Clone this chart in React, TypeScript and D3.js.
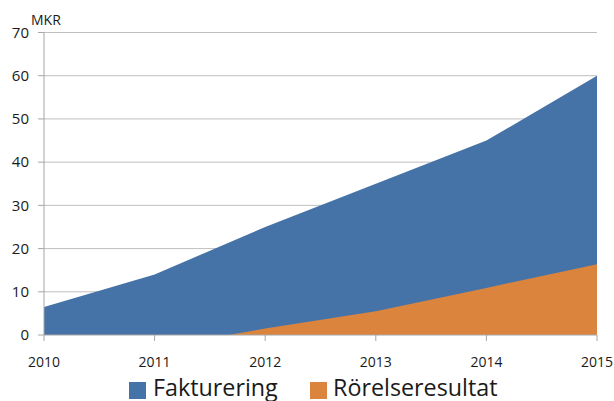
import React from 'react'
import * as d3 from 'd3'

const years = [2010, 2011, 2012, 2013, 2014, 2015]
const fakturering = [6.5, 14, 25, 35, 45, 60]
const rorelseresultat = [-1.5, -3, 1.5, 5.5, 10.9, 16.4]
const yTicks = [0, 10, 20, 30, 40, 50, 60, 70]
const seriesNames = ['Fakturering', 'Rörelseresultat']
const colors = ['#4673a7', '#db843d']

export default function App() {
    const width = 614
    const height = 401
    const left = 44, right = 597, top = 32.5, bottom = 335

    const x = d3.scaleLinear().domain([2010, 2015]).range([left, right])
    const y = d3.scaleLinear().domain([0, 70]).range([bottom, top])

    const area = d3.area<number>()
        .x((d, i) => x(years[i]))
        .y0(y(0))
        .y1(d => y(d))

    const font = "'Open Sans', 'Noto Sans', sans-serif"

    return (
        <svg width={width} height={height}
             style={{position: 'absolute', left: 0, top: 0, background: '#fff'}}
             fontFamily={font}>
            <defs>
                <clipPath id="plot">
                    <rect x={left} y={top} width={right - left} height={bottom - top} />
                </clipPath>
            </defs>
            {/* gridlines */}
            {yTicks.map(t => (
                <g key={t}>
                    {t > 0 && <line x1={left} x2={right} y1={y(t)} y2={y(t)} stroke="#bfbfbf" strokeWidth={1} />}
                    <line x1={left - 6} x2={left} y1={y(t)} y2={y(t)} stroke="#a6a6a6" strokeWidth={1} />
                    <text x={29} y={y(t)} dy="0.35em" textAnchor="end" fontSize={15} fill="#1a1a1a">{t}</text>
                </g>
            ))}
            <g clipPath="url(#plot)">
                <path d={area(fakturering) || ''} fill={colors[0]} />
                <path d={area(rorelseresultat) || ''} fill={colors[1]} />
            </g>
            {/* axes */}
            <line x1={left} x2={left} y1={top} y2={bottom} stroke="#a6a6a6" />
            <line x1={left} x2={right} y1={bottom} y2={bottom} stroke="#a6a6a6" />
            {years.map(yr => (
                <g key={yr}>
                    <line x1={x(yr)} x2={x(yr)} y1={bottom} y2={bottom + 6} stroke="#a6a6a6" />
                    <text x={x(yr)} y={367} textAnchor="middle" fontSize={14} fill="#1a1a1a">{yr}</text>
                </g>
            ))}
            <text x={31} y={25} fontSize={14} fill="#1a1a1a">MKR</text>
            {/* legend */}
            <rect x={129} y={382} width={17} height={17} fill={colors[0]} />
            <text x={153} y={396} fontSize={23.3} fill="#1a1a1a">{seriesNames[0]}</text>
            <rect x={310} y={382} width={17} height={17} fill={colors[1]} />
            <text x={333} y={396} fontSize={23.3} fill="#1a1a1a">{seriesNames[1]}</text>
        </svg>
    )
}
